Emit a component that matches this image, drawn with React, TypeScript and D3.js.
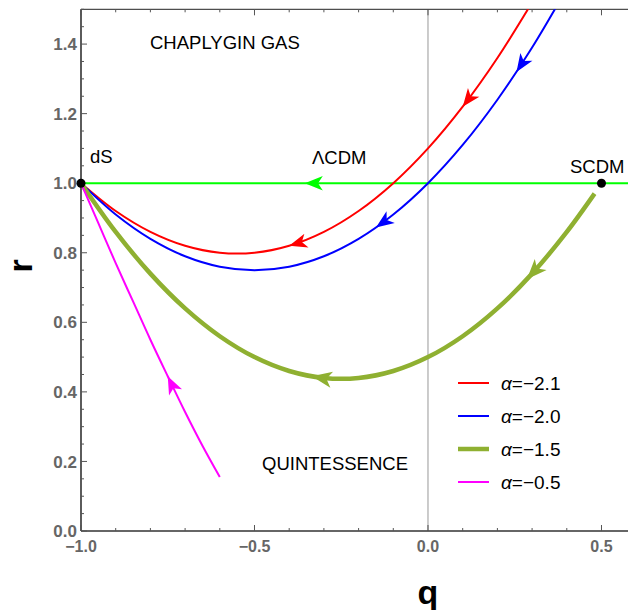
import { useEffect, useRef } from 'react';
import * as d3 from 'd3';

// tick values
const qTicks = [-1.0, -0.5, 0.0, 0.5];
const rTicks = [0.0, 0.2, 0.4, 0.6, 0.8, 1.0, 1.2, 1.4];

// trajectories in the {q, r} plane
const qRed = [-1, -0.9, -0.8, -0.7, -0.6, -0.5, -0.4, -0.3, -0.2, -0.1, 0, 0.1, 0.2, 0.3];
const rRed = [1.0, 0.92, 0.86, 0.82, 0.8, 0.8, 0.82, 0.86, 0.92, 1.0, 1.1, 1.22, 1.36, 1.52];

const qBlue = [-1, -0.9, -0.8, -0.7, -0.6, -0.5, -0.4, -0.3, -0.2, -0.1, 0, 0.1, 0.2, 0.3, 0.4];
const rBlue = [1.0, 0.91, 0.84, 0.79, 0.76, 0.75, 0.76, 0.79, 0.84, 0.91, 1.0, 1.11, 1.24, 1.39, 1.56];

const qOlive = [-1, -0.9, -0.8, -0.7, -0.6, -0.5, -0.4, -0.3, -0.2, -0.1, 0, 0.1, 0.2, 0.3, 0.4, 0.48];
const rOlive = [1.0, 0.86, 0.74, 0.64, 0.56, 0.5, 0.46, 0.44, 0.44, 0.46, 0.5, 0.56, 0.64, 0.74, 0.86, 0.97];

const qMagenta = [-1, -0.95, -0.9, -0.85, -0.8, -0.75, -0.7, -0.65, -0.6];
const rMagenta = [1.0, 0.885, 0.77, 0.66, 0.55, 0.445, 0.342, 0.245, 0.155];

const qLcdm = [-1, 0.6];
const rLcdm = [1, 1];

const series = [
  { key: 'red', label: '=\u22122.1', q: qRed, r: rRed, color: '#ff0000', width: 2, arrows: [0.1, -0.4] },
  { key: 'blue', label: '=\u22122.0', q: qBlue, r: rBlue, color: '#0000ff', width: 2, arrows: [0.255, -0.15] },
  { key: 'olive', label: '=\u22121.5', q: qOlive, r: rOlive, color: '#8fb031', width: 4.5, arrows: [0.285, -0.335] },
  { key: 'magenta', label: '=\u22120.5', q: qMagenta, r: rMagenta, color: '#ff00ff', width: 2, arrows: [-0.75] },
];

const fixedPoints = [
  { q: -1, r: 1 },
  { q: 0.5, r: 1 },
];

export default function App() {
  const svgRef = useRef<SVGSVGElement>(null);

  useEffect(() => {
    if (!svgRef.current) return;
    const W = 628;
    const H = 610;
    const left = 81;
    const right = 628;
    const top = 9.3;
    const bottom = 531;

    d3.select(svgRef.current).selectAll('*').remove();
    const svg = d3.select(svgRef.current).attr('width', W).attr('height', H);

    const x = d3.scaleLinear().domain([-1, 0.5764]).range([left, right]);
    const y = d3.scaleLinear().domain([0, 1.5]).range([bottom, top]);

    svg.append('defs').append('clipPath').attr('id', 'plot-clip')
      .append('rect')
      .attr('x', left).attr('y', top)
      .attr('width', right - left).attr('height', bottom - top);

    // vertical line at q = 0
    svg.append('line')
      .attr('x1', x(0)).attr('x2', x(0))
      .attr('y1', top).attr('y2', bottom)
      .attr('stroke', '#999').attr('stroke-width', 1);

    const font = "'Liberation Sans', Arial, sans-serif";
    const tickColor = '#666';

    // frame
    svg.append('line').attr('x1', left).attr('x2', right).attr('y1', top).attr('y2', top)
      .attr('stroke', '#222').attr('stroke-width', 1);
    svg.append('line').attr('x1', left).attr('x2', right).attr('y1', bottom).attr('y2', bottom)
      .attr('stroke', '#333').attr('stroke-width', 1.6);
    svg.append('line').attr('x1', left).attr('x2', left).attr('y1', top).attr('y2', bottom)
      .attr('stroke', '#333').attr('stroke-width', 1.6);

    // minor + major ticks (pointing inward)
    const qMinor = d3.range(-10, 6).map(i => i / 10);
    qMinor.forEach(v => {
      const major = qTicks.some(t => Math.abs(t - v) < 1e-9);
      const len = major ? 6 : 3;
      svg.append('line').attr('x1', x(v)).attr('x2', x(v))
        .attr('y1', bottom).attr('y2', bottom - len)
        .attr('stroke', '#555').attr('stroke-width', 1);
      svg.append('line').attr('x1', x(v)).attr('x2', x(v))
        .attr('y1', top).attr('y2', top + len)
        .attr('stroke', '#555').attr('stroke-width', 1);
    });
    const rMinor = d3.range(0, 31).map(i => i / 20);
    rMinor.forEach(v => {
      const major = rTicks.some(t => Math.abs(t - v) < 1e-9);
      const len = major ? 6 : 3;
      svg.append('line').attr('x1', left).attr('x2', left + len)
        .attr('y1', y(v)).attr('y2', y(v))
        .attr('stroke', '#555').attr('stroke-width', 1);
    });

    // tick labels
    svg.append('g').selectAll('text').data(qTicks).join('text')
      .attr('x', d => x(d)).attr('y', 552)
      .attr('text-anchor', 'middle')
      .attr('font-family', font).attr('font-weight', 'bold').attr('font-size', 16)
      .attr('fill', tickColor)
      .text(d => d3.format('.1f')(d).replace('-', '\u2212'));
    svg.append('g').selectAll('text').data(rTicks).join('text')
      .attr('x', left - 4).attr('y', d => y(d)).attr('dy', '0.36em')
      .attr('text-anchor', 'end')
      .attr('font-family', font).attr('font-weight', 'bold').attr('font-size', 17)
      .attr('fill', tickColor)
      .text(d => d3.format('.1f')(d));

    // axis labels
    svg.append('text').attr('x', 428).attr('y', 604)
      .attr('text-anchor', 'middle')
      .attr('font-family', font).attr('font-weight', 'bold').attr('font-size', 34)
      .text('q');
    svg.append('text')
      .attr('transform', 'translate(32,266) rotate(-90)')
      .attr('text-anchor', 'middle')
      .attr('font-family', font).attr('font-weight', 'bold').attr('font-size', 34)
      .text('r');

    const plot = svg.append('g').attr('clip-path', 'url(#plot-clip)');
    const line = d3.line<[number, number]>()
      .x(d => x(d[0]))
      .y(d => y(d[1]))
      .curve(d3.curveCatmullRom);

    const drawArrow = (path: SVGPathElement, qAt: number, color: string, scale: number) => {
      const L = path.getTotalLength();
      const target = x(qAt);
      let lo = 0;
      let hi = L;
      for (let i = 0; i < 40; i++) {
        const mid = (lo + hi) / 2;
        if (path.getPointAtLength(mid).x < target) lo = mid; else hi = mid;
      }
      const l = (lo + hi) / 2;
      const p = path.getPointAtLength(l);
      const a = path.getPointAtLength(Math.max(0, l - 2));
      const b = path.getPointAtLength(Math.min(L, l + 2));
      const ang = (Math.atan2(a.y - b.y, a.x - b.x) * 180) / Math.PI;
      plot.append('polygon')
        .attr('points', '0,0 -15,-6 -11,0 -15,6')
        .attr('fill', color)
        .attr('transform', `translate(${p.x},${p.y}) rotate(${ang}) scale(${scale})`);
    };

    // LCDM line
    const lcdm = plot.append('path')
      .datum(qLcdm.map((q, i) => [q, rLcdm[i]] as [number, number]))
      .attr('fill', 'none').attr('stroke', '#00ff00').attr('stroke-width', 2)
      .attr('d', line);
    drawArrow(lcdm.node() as SVGPathElement, -0.355, '#00ff00', 1.2);

    series.forEach(s => {
      const p = plot.append('path')
        .datum(s.q.map((q, i) => [q, s.r[i]] as [number, number]))
        .attr('fill', 'none').attr('stroke', s.color).attr('stroke-width', s.width)
        .attr('d', line);
      s.arrows.forEach(qa => drawArrow(p.node() as SVGPathElement, qa, s.color, s.width > 3 ? 1.35 : 1.2));
    });

    // fixed points
    svg.append('g').selectAll('circle').data(fixedPoints).join('circle')
      .attr('cx', d => x(d.q)).attr('cy', d => y(d.r)).attr('r', 4.5)
      .attr('fill', '#000');

    // annotations
    const notes = [
      { t: 'CHAPLYGIN GAS', x: 150, y: 49 },
      { t: '\u039BCDM', x: 312, y: 164 },
      { t: 'dS', x: 90, y: 163 },
      { t: 'SCDM', x: 570, y: 173 },
      { t: 'QUINTESSENCE', x: 262, y: 470 },
    ];
    svg.append('g').selectAll('text').data(notes).join('text')
      .attr('x', d => d.x).attr('y', d => d.y)
      .attr('font-family', font).attr('font-size', 18.5)
      .attr('fill', '#000')
      .text(d => d.t);

    // legend
    const legend = svg.append('g');
    series.forEach((s, i) => {
      const ly = 383 + i * 33;
      legend.append('line').attr('x1', 458).attr('x2', 489).attr('y1', ly).attr('y2', ly)
        .attr('stroke', s.color).attr('stroke-width', s.width > 3 ? 4.5 : 2);
      const txt = legend.append('text').attr('x', 501).attr('y', ly).attr('dy', '0.36em')
        .attr('font-family', font).attr('font-size', 19).attr('fill', '#000');
      txt.append('tspan').attr('font-style', 'italic').text('\u03B1');
      txt.append('tspan').text(s.label);
    });
  }, []);

  return (
    <svg
      ref={svgRef}
      style={{ position: 'absolute', left: 0, top: 0, display: 'block', background: '#fff' }}
    />
  );
}
